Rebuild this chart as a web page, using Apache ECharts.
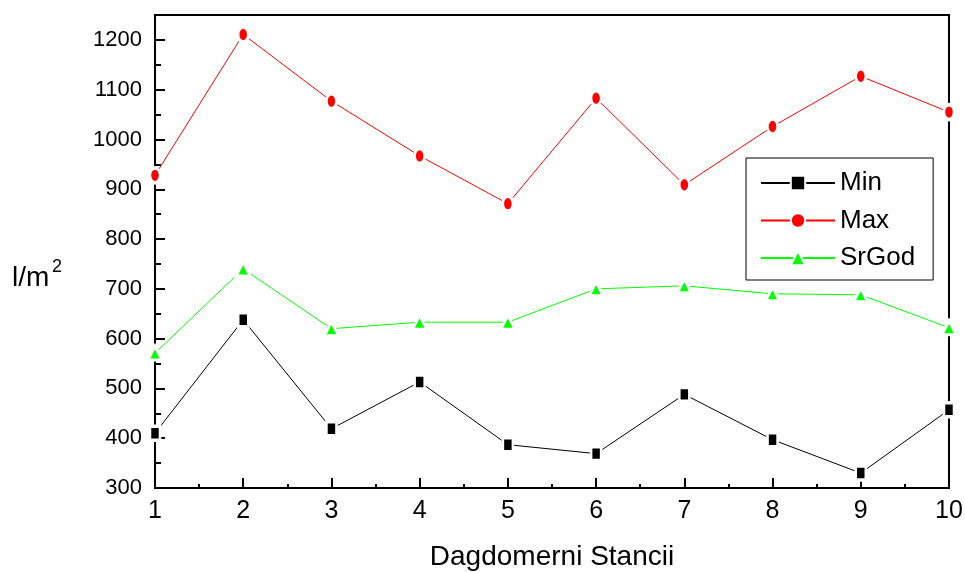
<!DOCTYPE html>
<html>
<head>
<meta charset="utf-8">
<script src="https://cdn.jsdelivr.net/npm/echarts@6/dist/echarts.min.js"></script>
<style>
  html, body { margin: 0; padding: 0; background: #fff; }
  #main { width: 965px; height: 572px; }
</style>
</head>
<body>
<div id="main"></div>
<script>
// stations 1..10
var stations = [1, 2, 3, 4, 5, 6, 7, 8, 9, 10]
var minVals = [410, 638, 419, 513, 387, 369, 488, 397, 330, 457]
var maxVals = [928, 1211, 1077, 967, 871, 1083, 909, 1026, 1127, 1055]
var srGodVals = [571, 740, 620, 633, 633, 700, 706, 690, 688, 622]

var FONT = 'Liberation Sans, Arial, sans-serif'

function pairs (vals) {
  return stations.map(function (s, i) { return [s, vals[i]] })
}

function mkSeries (name, vals, color, symbol, size) {
  return {
    name: name,
    type: 'line',
    data: pairs(vals),
    symbol: symbol,
    symbolSize: size,
    clip: false,
    lineStyle: { color: color, width: 1 },
    itemStyle: { color: color, borderColor: '#fff', borderWidth: 3 },
    emphasis: { disabled: true }
  }
}

var myChart = echarts.init(document.getElementById('main'))

var option = {
  animation: false,
  grid: {
    left: 155, right: 16, top: 15, bottom: 84,
    outerBoundsMode: 'none',
    containLabel: false,
    show: true, borderColor: '#000', borderWidth: 2
  },
  legend: {
    left: 746,
    top: 158,
    orient: 'vertical',
    data: ['Min', 'Max', 'SrGod'],
    itemWidth: 74,
    itemHeight: 18,
    itemGap: 9.5,
    padding: [11, 18, 8, 14],
    borderColor: '#000',
    borderWidth: 1,
    borderRadius: 0,
    textStyle: { fontFamily: FONT, fontSize: 26, color: '#000', lineHeight: 28 }
  },
  xAxis: {
    type: 'value',
    min: 1,
    max: 10,
    interval: 1,
    name: 'Dagdomerni Stancii',
    nameLocation: 'middle',
    nameGap: 55,
    nameTextStyle: { fontFamily: FONT, fontSize: 28, color: '#000' },
    axisLine: { show: true, lineStyle: { color: '#000', width: 2 } },
    axisTick: { show: true, inside: true, length: 10, lineStyle: { color: '#000', width: 2 } },
    minorTick: { show: true, splitNumber: 2, length: 4, lineStyle: { color: '#000', width: 2 } },
    axisLabel: { fontFamily: FONT, fontSize: 25, color: '#000', margin: 11 },
    splitLine: { show: false }
  },
  yAxis: {
    type: 'value',
    min: 300,
    max: 1250,
    interval: 100,
    axisLine: { show: true, lineStyle: { color: '#000', width: 2 } },
    axisTick: { show: true, inside: true, length: 10, lineStyle: { color: '#000', width: 2 } },
    minorTick: { show: true, splitNumber: 2, length: 6, lineStyle: { color: '#000', width: 2 } },
    axisLabel: {
      fontFamily: FONT, fontSize: 22, color: '#000', margin: 13, showMaxLabel: false,
      formatter: function (v) { return String(v) }
    },
    splitLine: { show: false }
  },
  graphic: [
    {
      type: 'text',
      left: 12,
      top: 264,
      style: { text: 'l/m', font: '28px ' + FONT, fill: '#000' }
    },
    {
      type: 'text',
      left: 52,
      top: 258,
      style: { text: '2', font: '18px ' + FONT, fill: '#000' }
    }
  ],
  series: [
    mkSeries('Min', minVals, '#000000', 'rect', [10, 14]),
    mkSeries('Max', maxVals, '#ff0000', 'circle', [10, 15]),
    mkSeries('SrGod', srGodVals, '#00ff00', 'triangle', [14, 14])
  ]
}

myChart.setOption(option)
</script>
</body>
</html>
